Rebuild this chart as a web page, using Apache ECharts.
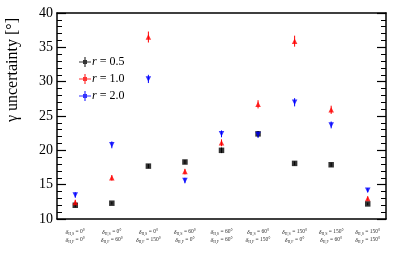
<!DOCTYPE html>
<html><head><meta charset="utf-8">
<script src="https://cdn.jsdelivr.net/npm/echarts@6/dist/echarts.min.js"></script>
<style>html,body{margin:0;padding:0;background:#fff}#c{width:407px;height:261px}</style>
</head><body><div id="c"></div>
<script>
const catS = ['0°','0°','0°','60°','60°','60°','150°','150°','150°'];
const catF = ['0°','60°','150°','0°','60°','150°','0°','60°','150°'];
const yTicks = [10,15,20,25,30,35,40];
const r05 = [12.0, 12.3, 17.7, 18.3, 20.0, 22.4, 18.1, 17.9, 12.2];
const r05err = [0.3, 0.2, 0.3, 0.3, 0.4, 0.4, 0.3, 0.3, 0.2];
const r10 = [12.4, 16.0, 36.5, 16.9, 21.1, 26.7, 35.9, 25.9, 13.0];
const r10err = [0.4, 0.4, 0.8, 0.4, 0.5, 0.6, 0.8, 0.6, 0.3];
const r20 = [13.5, 20.8, 30.4, 15.6, 22.4, 22.3, 27.0, 23.7, 14.2];
const r20err = [0.4, 0.5, 0.6, 0.4, 0.5, 0.5, 0.6, 0.5, 0.3];
const seriesNames = ['0.5','1.0','2.0'];
const colors = ['#000000','#ff0000','#0000ff'];

const cats = catS.map((s,i)=>i);
const font = 'Liberation Serif';

function errSeries(vals, errs, color){
  return {
    type:'custom', xAxisIndex:0, yAxisIndex:0, silent:true, z:2,
    data: vals.map((v,i)=>[i, v-errs[i], v+errs[i]]),
    renderItem:(p, api)=>{
      const lo = api.coord([api.value(0), api.value(1)]);
      const hi = api.coord([api.value(0), api.value(2)]);
      return {type:'line', shape:{x1:lo[0],y1:lo[1],x2:hi[0],y2:hi[1]}, style:{stroke:color, lineWidth:1}};
    }
  };
}
const crossIcon = 'path://M0,4.4h12v1.2h-12z M5.4,0h1.2v10h-1.2z M4,3h4v4h-4z';

const chart = echarts.init(document.getElementById('c'), null, {renderer:'canvas'});
chart.setOption({
  animation:false,
  backgroundColor:'#fff',
  grid:{left:57, right:21, top:13, bottom:42},
  legend:{
    orient:'vertical', left:74, top:51, itemWidth:12, itemHeight:10, itemGap:5,
    icon: crossIcon,
    data: seriesNames.map((n)=>({name:'r'+n})),
    formatter:(n)=>'{i|r} = '+n.slice(1),
    textStyle:{fontFamily:font, fontSize:12, lineHeight:11, color:'#000', padding:[0,0,0,-4],
      rich:{i:{fontFamily:font, fontStyle:'italic', fontSize:12, lineHeight:11, color:'#000'}}}
  },
  xAxis:[{
    type:'category', data:cats, boundaryGap:true,
    axisLine:{lineStyle:{color:'#000', width:1.5}},
    axisTick:{inside:true, length:7, alignWithLabel:true, lineStyle:{color:'#000', width:1.2}},
    axisLabel:{margin:9, interval:0, lineHeight:8,
      formatter:(v)=>'{d|δ}{s|II,S} = '+catS[v]+'\n{d|δ}{s|II,F} = '+catF[v],
      fontFamily:font, fontSize:5.5, color:'#333',
      rich:{d:{fontFamily:font, fontSize:6, fontStyle:'italic', color:'#333'}, s:{fontFamily:font, fontSize:4, color:'#333', verticalAlign:'bottom', padding:[3,0,0,0]}}},
    splitLine:{show:false}
  },{
    type:'category', data:cats, boundaryGap:true, position:'top',
    axisLine:{lineStyle:{color:'#000', width:1.5}},
    axisTick:{inside:true, length:7, alignWithLabel:true, lineStyle:{color:'#000', width:1.2}},
    axisLabel:{show:false}, splitLine:{show:false}
  }],
  yAxis:[{
    type:'value', min:10, max:40, interval:5,
    axisLine:{show:true, lineStyle:{color:'#000', width:1.5}},
    axisTick:{show:true, inside:true, length:9, lineStyle:{color:'#000', width:1.2}},
    minorTick:{show:true, splitNumber:5, length:5, lineStyle:{color:'#000', width:1}},
    axisLabel:{fontFamily:font, fontSize:14, color:'#000', margin:4},
    splitLine:{show:false}
  },{
    type:'value', min:10, max:40, interval:5, position:'right',
    axisLine:{show:true, lineStyle:{color:'#000', width:1.5}},
    axisTick:{show:true, inside:true, length:9, lineStyle:{color:'#000', width:1.2}},
    minorTick:{show:true, splitNumber:5, length:5, lineStyle:{color:'#000', width:1}},
    axisLabel:{show:false}, splitLine:{show:false}
  }],
  graphic:[{
    type:'text', rotation:Math.PI/2,
    x:13, y:70,
    style:{text:'γ uncertainty [°]', fontFamily:font, fontSize:16, fill:'#000', align:'center', verticalAlign:'middle'}
  }],
  series:[
    errSeries(r05, r05err, colors[0]),
    errSeries(r10, r10err, colors[1]),
    errSeries(r20, r20err, colors[2]),
    {name:'r0.5', type:'scatter', data:r05.map((v,i)=>[i,v]), symbol:'rect', symbolSize:5.5, itemStyle:{color:colors[0]}, z:3},
    {name:'r1.0', type:'scatter', data:r10.map((v,i)=>[i,v]), symbol:'triangle', symbolSize:5.5, itemStyle:{color:colors[1]}, z:3},
    {name:'r2.0', type:'scatter', data:r20.map((v,i)=>[i,v]), symbol:'triangle', symbolRotate:180, symbolSize:5.5, itemStyle:{color:colors[2]}, z:3}
  ]
});
</script></body></html>
